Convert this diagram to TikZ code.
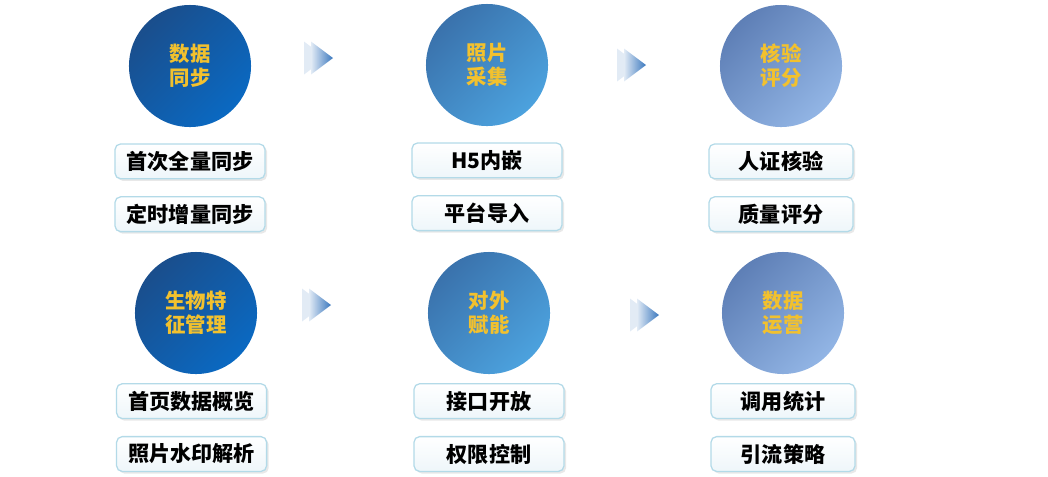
\documentclass[tikz,border=0pt]{standalone}
\usepackage{fontspec}
\setmainfont{Noto Sans CJK SC}
\usetikzlibrary{positioning, shadows}
\definecolor{ringgold}{HTML}{F2C12E}
\definecolor{navyA}{HTML}{1A4E8C}
\definecolor{navyB}{HTML}{0A69C2}
\definecolor{skyA}{HTML}{3A72AC}
\definecolor{skyB}{HTML}{4CA2DE}
\definecolor{slateA}{HTML}{5E7FB6}
\definecolor{slateB}{HTML}{92B5E5}
\definecolor{boxedge}{HTML}{B3DAE8}
\definecolor{boxfill}{HTML}{EEF6FA}
\definecolor{chevblue}{HTML}{3B78BE}

\begin{document}
\begin{tikzpicture}[
    x=0.025cm, y=-0.025cm,
    stage/.style={circle, minimum size=3.05cm, inner sep=0pt, align=center, text=ringgold,
      font=\fontsize{14.5}{17}\selectfont\bfseries},
    task/.style={draw=boxedge, line width=0.9pt, rounded corners=4pt, minimum height=0.87cm,
      minimum width=3.75cm, top color=white, bottom color=boxfill,
      font=\fontsize{15}{18}\selectfont\bfseries,
      drop shadow={opacity=0.18, shadow xshift=1.5pt, shadow yshift=-1.5pt}},
    dark/.style={top color=navyA, bottom color=navyB, shading angle=45},
    mid/.style={top color=skyA, bottom color=skyB, shading angle=45},
    pale/.style={top color=slateA, bottom color=slateB, shading angle=45}
  ]
    \useasboundingbox (0,0) rectangle (1048,476);

    % top row
    \node[stage, dark] (sync) at (190,66) {数据\\同步};
    \node[stage, mid] (photo) at (487,65) {照片\\采集};
    \node[stage, pale] (check) at (781,66) {核验\\评分};

    \node[task, below=0.4cm of sync] (sync1) {首次全量同步};
    \node[task, below=0.42cm of sync1] (sync2) {定时增量同步};
    \node[task, below=0.4cm of photo] (photo1) {H5内嵌};
    \node[task, below=0.42cm of photo1] (photo2) {平台导入};
    \node[task, minimum width=3.6cm, below=0.4cm of check] (check1) {人证核验};
    \node[task, minimum width=3.6cm, below=0.42cm of check1] (check2) {质量评分};

    % bottom row
    \node[stage, dark] (bio) at (196,313) {生物特\\征管理};
    \node[stage, mid] (open) at (489,313) {对外\\赋能};
    \node[stage, pale] (ops) at (783,313) {数据\\运营};

    \node[task, below=0.22cm of bio, xshift=-0.11cm] (bio1) {首页数据概览};
    \node[task, below=0.42cm of bio1] (bio2) {照片水印解析};
    \node[task, below=0.22cm of open] (open1) {接口开放};
    \node[task, below=0.42cm of open1] (open2) {权限控制};
    \node[task, minimum width=3.6cm, below=0.22cm of ops] (ops1) {调用统计};
    \node[task, minimum width=3.6cm, below=0.42cm of ops1] (ops2) {引流策略};

    % chevrons
    \foreach \cx/\cy in {322/58, 635/65, 320/305, 648/315} {
      \fill[chevblue!25, opacity=0.6] (\cx-18,\cy-16.5) -- (\cx+4,\cy) -- (\cx-18,\cy+16.5) -- cycle;
      \shade[left color=chevblue!15, right color=chevblue] (\cx-11,\cy-16.5) -- (\cx+11,\cy) -- (\cx-11,\cy+16.5) -- cycle;
    }
  \end{tikzpicture}
\end{document}
